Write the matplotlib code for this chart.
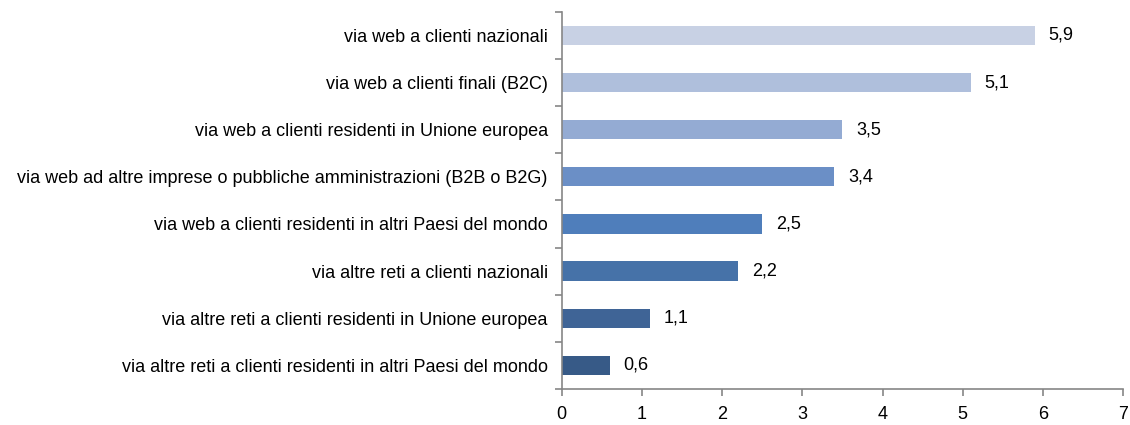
import matplotlib.pyplot as plt

categories = [
    'via web a clienti nazionali',
    'via web a clienti finali (B2C)',
    'via web a clienti residenti in Unione europea',
    'via web ad altre imprese o pubbliche amministrazioni (B2B o B2G)',
    'via web a clienti residenti in altri Paesi del mondo',
    'via altre reti a clienti nazionali',
    'via altre reti a clienti residenti in Unione europea',
    'via altre reti a clienti residenti in altri Paesi del mondo',
]
values = [5.9, 5.1, 3.5, 3.4, 2.5, 2.2, 1.1, 0.6]
colors = ['#C8D1E4', '#AFBFDC', '#94ABD3', '#6B8FC6',
          '#4F7EBB', '#4672A8', '#3F6496', '#375A87']

plt.rcParams['font.family'] = ['Liberation Sans', 'DejaVu Sans']
fs = 13

fig = plt.figure(figsize=(11.3, 4.25), dpi=100)
ax = fig.add_axes([0.497, 0.085, 0.497, 0.887])

pos = list(range(len(categories)))
ax.barh(pos, values, height=0.41, color=colors)
ax.set_ylim(len(categories) - 0.5, -0.5)
ax.set_xlim(0, 7)

for p, v in zip(pos, values):
    ax.text(v + 0.17, p, f'{v:.1f}'.replace('.', ','), va='center', ha='left', fontsize=fs)

ax.set_yticks(pos)
ax.set_yticklabels(categories, fontsize=fs)
ax.tick_params(axis='y', length=0, pad=10)
ax.set_yticks([p + 0.5 for p in [-1] + pos], minor=True)
ax.tick_params(axis='y', which='minor', length=5, color='#868686', width=1.2)
ax.set_xticks(range(8))
ax.tick_params(axis='x', length=5, color='#868686', width=1.2, labelsize=fs, pad=7)

for s in ['top', 'right']:
    ax.spines[s].set_visible(False)
for s in ['left', 'bottom']:
    ax.spines[s].set_color('#868686')
    ax.spines[s].set_linewidth(1.2)

fig.savefig('out.png', dpi=100)
